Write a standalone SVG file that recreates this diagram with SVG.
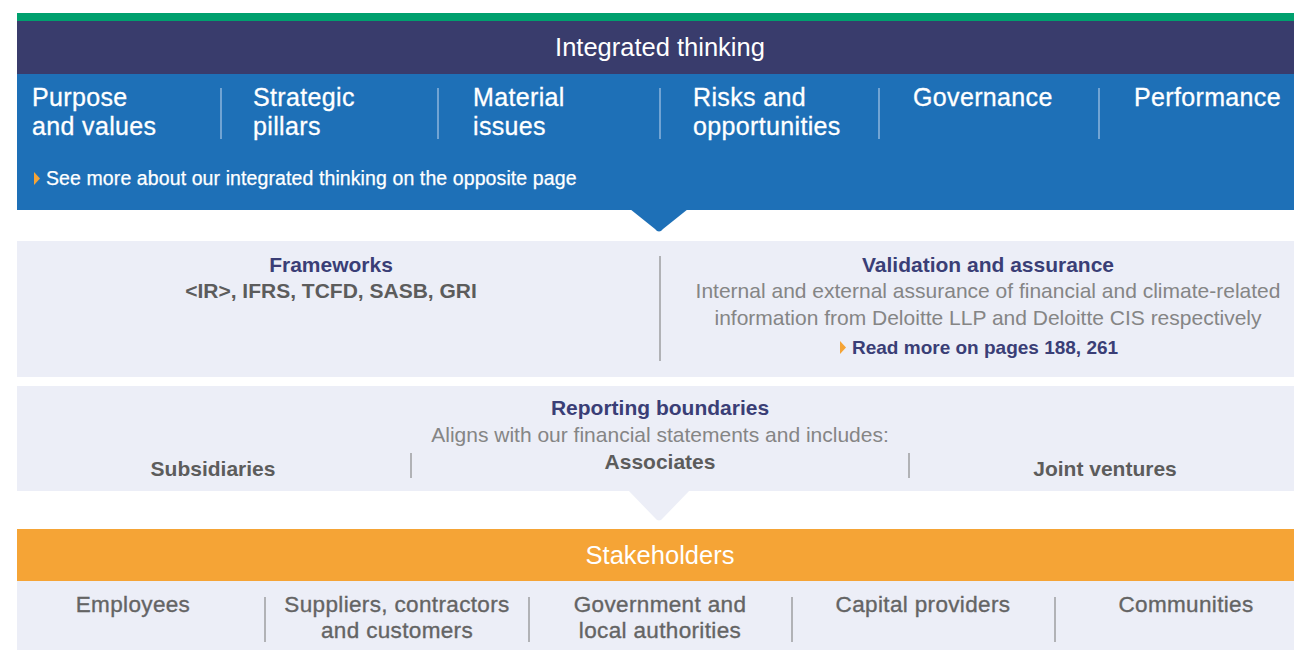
<svg xmlns="http://www.w3.org/2000/svg" width="1294" height="650" viewBox="0 0 1294 650">
  <style>
    text { font-family: "Liberation Sans", Arial, Helvetica, sans-serif; }
    .hdr { fill: #ffffff; font-size: 25.5px; }
    .col { fill: #ffffff; font-size: 25px; letter-spacing: 0.35px; stroke: #ffffff; stroke-width: 0.3px; }
    .note { fill: #ffffff; font-size: 19.5px; letter-spacing: 0.1px; stroke: #ffffff; stroke-width: 0.25px; }
    .ttl { fill: #3a3e76; font-size: 21px; font-weight: bold; }
    .sub { fill: #5c5c5c; font-size: 21px; font-weight: bold; }
    .desc { fill: #858585; font-size: 21px; }
    .link { fill: #3a3e76; font-size: 19px; font-weight: bold; }
    .stk { fill: #646464; font-size: 22.5px; letter-spacing: 0.35px; stroke: #646464; stroke-width: 0.35px; }
    .c { text-anchor: middle; }
    .divW { stroke: #a9c6e6; stroke-width: 1.2; }
    .divG { stroke: #8a8a8a; stroke-width: 1.2; }
    .mark { fill: #f5a436; }
  </style>

  <!-- Integrated thinking -->
  <g id="integrated-thinking">
    <rect x="17" y="13" width="1277" height="8" fill="#00a06e"/>
    <rect x="17" y="21" width="1277" height="53" fill="#393c6c"/>
    <rect x="17" y="74" width="1277" height="136" fill="#1e70b7"/>
    <path d="M630 209 L688 209 L663 229 Q659 234 655 229 Z" fill="#1e70b7"/>
    <text class="hdr c" x="660" y="56">Integrated thinking</text>
    <text class="col" x="32" y="106">Purpose</text>
    <text class="col" x="32" y="135">and values</text>
    <text class="col" x="253" y="106">Strategic</text>
    <text class="col" x="253" y="135">pillars</text>
    <text class="col" x="473" y="106">Material</text>
    <text class="col" x="473" y="135">issues</text>
    <text class="col" x="693" y="106">Risks and</text>
    <text class="col" x="693" y="135">opportunities</text>
    <text class="col" x="913" y="106">Governance</text>
    <text class="col" x="1134" y="106">Performance</text>
    <line class="divW" x1="221" y1="88" x2="221" y2="139"/>
    <line class="divW" x1="438" y1="88" x2="438" y2="139"/>
    <line class="divW" x1="660" y1="88" x2="660" y2="139"/>
    <line class="divW" x1="879" y1="88" x2="879" y2="139"/>
    <line class="divW" x1="1099" y1="88" x2="1099" y2="139"/>
    <path class="mark" d="M34 172 L40 178.5 L34 185 Z"/>
    <text class="note" x="46" y="185">See more about our integrated thinking on the opposite page</text>
  </g>

  <!-- Frameworks / validation -->
  <g id="frameworks-validation">
    <rect x="17" y="241" width="1277" height="136" fill="#eceef7"/>
    <line class="divG" x1="660" y1="256" x2="660" y2="361"/>
  </g>
  <g id="frameworks">
    <text class="ttl c" x="331" y="272">Frameworks</text>
    <text class="sub c" x="331" y="298">&lt;IR&gt;, IFRS, TCFD, SASB, GRI</text>
  </g>
  <g id="validation">
    <text class="ttl c" x="988" y="272">Validation and assurance</text>
    <text class="desc c" x="988" y="298">Internal and external assurance of financial and climate-related</text>
    <text class="desc c" x="988" y="325">information from Deloitte LLP and Deloitte CIS respectively</text>
    <path class="mark" d="M840 341 L846 347.5 L840 354 Z"/>
    <text class="link" x="852" y="354">Read more on pages 188, 261</text>
  </g>

  <!-- Reporting boundaries -->
  <g id="reporting-boundaries">
    <rect x="17" y="386" width="1277" height="105" fill="#eceef7"/>
    <path d="M628 490 L690 490 L663 518 Q659 523 655 518 Z" fill="#eceef7"/>
    <text class="ttl c" x="660" y="415">Reporting boundaries</text>
    <text class="desc c" x="660" y="442">Aligns with our financial statements and includes:</text>
    <text class="sub c" x="213" y="476">Subsidiaries</text>
    <text class="sub c" x="660" y="469">Associates</text>
    <text class="sub c" x="1105" y="476">Joint ventures</text>
    <line class="divG" x1="411" y1="453" x2="411" y2="478"/>
    <line class="divG" x1="909" y1="453" x2="909" y2="478"/>
  </g>

  <!-- Stakeholders -->
  <g id="stakeholders">
    <rect x="17" y="529" width="1277" height="52" fill="#f5a436"/>
    <rect x="17" y="581" width="1277" height="69" fill="#eceef7"/>
    <text class="hdr c" x="660" y="564">Stakeholders</text>
    <text class="stk c" x="133" y="612">Employees</text>
    <text class="stk c" x="397" y="612">Suppliers, contractors</text>
    <text class="stk c" x="397" y="638">and customers</text>
    <text class="stk c" x="660" y="612">Government and</text>
    <text class="stk c" x="660" y="638">local authorities</text>
    <text class="stk c" x="923" y="612">Capital providers</text>
    <text class="stk c" x="1186" y="612">Communities</text>
    <line class="divG" x1="265" y1="597" x2="265" y2="642"/>
    <line class="divG" x1="529" y1="597" x2="529" y2="642"/>
    <line class="divG" x1="792" y1="597" x2="792" y2="642"/>
    <line class="divG" x1="1055" y1="597" x2="1055" y2="642"/>
  </g>
</svg>
